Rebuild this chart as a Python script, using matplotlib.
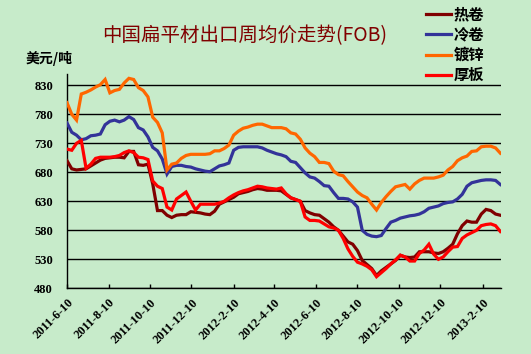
import matplotlib
matplotlib.use("Agg")
import matplotlib.pyplot as plt
import matplotlib.dates as mdates
from matplotlib.lines import Line2D
import pandas as pd

plt.rcParams['font.family'] = ['Noto Sans CJK SC', 'DejaVu Sans']

start_date = "2011-06-10"
n_weeks = 92

hot_coil = [700, 686, 684, 685, 686, 691, 696, 701, 704, 705,
            706, 706, 705, 716, 716, 693, 692, 694, 660, 614,
            614, 606, 602, 606, 607, 607, 612, 611, 610, 608,
            607, 613, 625, 629, 633, 637, 643, 645, 647, 650,
            652, 651, 649, 649, 649, 648, 642, 636, 633, 630,
            614, 610, 607, 606, 600, 594, 586, 580, 570, 560,
            556, 545, 528, 521, 514, 502, 510, 516, 522, 528,
            537, 534, 533, 534, 543, 543, 543, 541, 540, 543,
            549, 556, 574, 588, 596, 594, 594, 608, 616, 614,
            608, 606]
cold_coil = [765, 749, 744, 736, 738, 743, 744, 746, 762, 768,
             770, 767, 770, 776, 771, 757, 753, 741, 723, 717,
             703, 677, 690, 692, 692, 690, 689, 686, 684, 682,
             681, 686, 691, 693, 696, 718, 723, 724, 724, 724,
             724, 722, 718, 715, 712, 710, 707, 699, 697, 688,
             679, 672, 670, 664, 657, 656, 645, 635, 635, 634,
             629, 620, 580, 573, 570, 569, 571, 583, 594, 597,
             601, 603, 605, 606, 608, 612, 618, 620, 622, 626,
             628, 629, 634, 642, 656, 662, 664, 666, 667, 667,
             666, 659]
galvanized = [800, 780, 770, 815, 818, 822, 827, 831, 840, 817,
              821, 823, 834, 842, 840, 826, 821, 810, 775, 766,
              748, 684, 694, 696, 704, 709, 711, 711, 711, 711,
              712, 717, 717, 721, 727, 744, 751, 756, 758, 761,
              763, 763, 760, 757, 757, 757, 755, 748, 746, 737,
              722, 713, 707, 697, 697, 695, 682, 676, 674, 664,
              655, 646, 640, 636, 625, 615, 628, 638, 647, 655,
              657, 659, 651, 660, 666, 670, 670, 670, 672, 675,
              684, 690, 700, 705, 708, 716, 717, 724, 725, 725,
              722, 713]
heavy_plate = [720, 718, 730, 735, 687, 694, 704, 706, 706, 706,
               707, 709, 714, 717, 714, 706, 705, 702, 665, 656,
               652, 620, 615, 634, 640, 646, 630, 615, 625, 625,
               625, 625, 627, 630, 636, 641, 645, 648, 650, 653,
               656, 655, 653, 652, 651, 653, 643, 636, 633, 630,
               603, 597, 597, 596, 591, 586, 584, 580, 566, 548,
               535, 525, 522, 518, 512, 500, 507, 514, 522, 529,
               537, 534, 527, 527, 540, 546, 556, 539, 530, 534,
               543, 551, 552, 566, 572, 576, 580, 588, 590, 591,
               588, 578]

series_names = ["热卷", "冷卷", "镀锌", "厚板"]
series_colors = ["#800000", "#333399", "#FF6600", "#FF0000"]
tick_labels = ["2011-6-10", "2011-8-10", "2011-10-10", "2011-12-10",
               "2012-2-10", "2012-4-10", "2012-6-10", "2012-8-10",
               "2012-10-10", "2012-12-10", "2013-2-10"]
y_ticks = [480, 530, 580, 630, 680, 730, 780, 830]

title = "中国扁平材出口周均价走势(FOB)"
unit = "美元/吨"

bg = "#C7EBCA"
dates = pd.date_range(start_date, periods=n_weeks, freq="7D")

fig = plt.figure(figsize=(5.31, 3.54), dpi=100, facecolor=bg)
ax = fig.add_axes([0.1262, 0.1856, 0.8173, 0.6062], facecolor=bg)

all_series = [hot_coil, cold_coil, galvanized, heavy_plate]
for vals, c in zip(all_series, series_colors):
    ax.plot(dates, vals, color=c, lw=2.3, solid_joinstyle="miter", zorder=3)

ax.set_ylim(480, 850)
ax.set_xlim(dates[0], dates[-1] + pd.Timedelta(days=1))
ax.set_yticks(y_ticks)
ax.set_yticklabels([str(v) for v in y_ticks], family="Liberation Serif",
                   fontweight="bold", fontsize=9)
for v in y_ticks:
    ax.axhline(v, color="black", lw=1.0, zorder=1)

tick_dates = pd.to_datetime(tick_labels, format="%Y-%m-%d")
ax.set_xticks(tick_dates)
ax.set_xticklabels(tick_labels, rotation=45, ha="right", va="top",
                   rotation_mode="anchor", family="Liberation Serif",
                   fontweight="bold", fontsize=9)
ax.tick_params(axis="x", direction="in", length=3, width=1, pad=6, colors="black")
ax.tick_params(axis="y", length=0, pad=10)

for s in ["top", "right"]:
    ax.spines[s].set_visible(False)
for s in ["left", "bottom"]:
    ax.spines[s].set_color("black")
    ax.spines[s].set_linewidth(1.0)

fig.text(0.461, 0.899, title, color="#800000", fontsize=14,
         ha="center", va="center")
fig.text(0.092, 0.836, unit, color="black", fontsize=10, fontweight="bold",
         ha="center", va="center")

handles = [Line2D([], [], color=c, lw=2.3) for c in series_colors]
fig.legend(handles, series_names, loc="upper left",
           bbox_to_anchor=(0.803, 0.982), frameon=False,
           prop={"family": ["Noto Sans CJK SC"], "weight": "bold", "size": 11},
           handlelength=1.6, handletextpad=0.2, labelspacing=0.28,
           borderpad=0, borderaxespad=0)

fig.savefig("out.png", dpi=100, facecolor=bg)
